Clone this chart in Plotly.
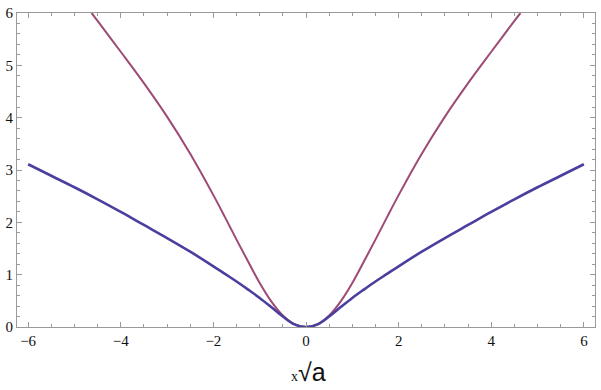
import plotly.graph_objects as go

# values (left half, curves are symmetric)
x_blue_left = [-6.0, -5.5, -5.0, -4.5, -4.0, -3.5, -3.0, -2.5, -2.0, -1.75, -1.5, -1.25, -1.0, -0.75, -0.5, -0.25, 0.0]
y_blue_left = [3.11, 2.89, 2.67, 2.44, 2.20, 1.95, 1.70, 1.44, 1.16, 1.015, 0.87, 0.715, 0.555, 0.38, 0.20, 0.05, 0.0]

x_purple_left = [-4.63, -4.5, -4.0, -3.5, -3.0, -2.5, -2.0, -1.75, -1.5, -1.25, -1.0, -0.75, -0.5, -0.25, 0.0]
y_purple_left = [6.0, 5.85, 5.26, 4.66, 4.02, 3.31, 2.52, 2.10, 1.67, 1.25, 0.84, 0.49, 0.22, 0.055, 0.0]

x_ticks = [-6, -4, -2, 0, 2, 4, 6]
x_tick_labels = ["\u22126", "\u22124", "\u22122", "0", "2", "4", "6"]
y_ticks = [0, 1, 2, 3, 4, 5, 6]
y_tick_labels = ["0", "1", "2", "3", "4", "5", "6"]

def mirror(xs, ys):
    x_full = xs + [-v for v in reversed(xs[:-1])]
    y_full = ys + list(reversed(ys[:-1]))
    return x_full, y_full

xb, yb = mirror(x_blue_left, y_blue_left)
xp, yp = mirror(x_purple_left, y_purple_left)

BLUE = "#4A3F9F"
PURPLE = "#9E4A76"
FRAME = "#9a9a9a"

fig = go.Figure()
fig.add_trace(go.Scatter(x=xp, y=yp, mode="lines",
                         line=dict(color=PURPLE, width=2, shape="spline", smoothing=1.0),
                         hoverinfo="skip", showlegend=False))
fig.add_trace(go.Scatter(x=xb, y=yb, mode="lines",
                         line=dict(color=BLUE, width=2.6, shape="spline", smoothing=1.0),
                         hoverinfo="skip", showlegend=False))

axis_common = dict(
    showline=True, linecolor=FRAME, linewidth=1, mirror="ticks",
    ticks="inside", tickcolor=FRAME, ticklen=5, tickwidth=1,
    showgrid=False, zeroline=False, ticklabeloverflow="allow",
    tickfont=dict(family="Liberation Serif", size=15, color="#111"),
)

fig.update_xaxes(range=[-6.24, 6.24], tickvals=x_ticks, ticktext=x_tick_labels,
                 minor=dict(dtick=0.5, ticks="inside", ticklen=3, tickcolor=FRAME, showgrid=False),
                 **axis_common)
fig.update_yaxes(range=[0, 6.0005], tickvals=y_ticks, ticktext=y_tick_labels,
                 minor=dict(dtick=0.2, ticks="inside", ticklen=3, tickcolor=FRAME, showgrid=False),
                 **axis_common)

fig.add_annotation(
    x=0.505, y=-0.142, xref="paper", yref="paper", xanchor="center", yanchor="middle",
    showarrow=False,
    text="<span style='font-family:Liberation Serif;font-size:14px'>x</span>"
         "<span style='font-family:Liberation Sans;font-size:25px'>\u221aa</span>",
    font=dict(color="#111"),
)

fig.update_layout(
    width=601, height=390,
    margin=dict(l=17, r=5, t=6, b=63),
    paper_bgcolor="white", plot_bgcolor="white",
)

fig.write_html("out.html")
